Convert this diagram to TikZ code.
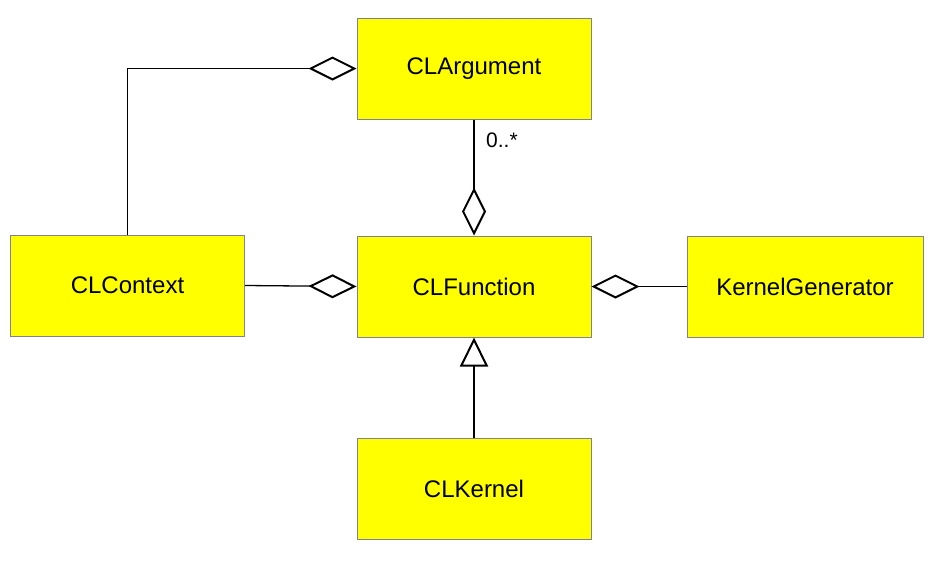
\documentclass[tikz,border=0pt]{standalone}
\usepackage{fontspec}
\setmainfont{Liberation Sans}
\usetikzlibrary{arrows.meta}
\definecolor{boxfill}{RGB}{255,255,0}
\definecolor{boxline}{RGB}{128,128,150}
\begin{document}
\begin{tikzpicture}[x=1pt,y=-1pt,
  cls/.style={draw=boxline, line width=1pt, fill=boxfill, minimum width=234pt, minimum height=101pt, inner sep=0pt, font=\fontsize{24}{28}\selectfont},
  agg/.style={line width=1.3pt, -{Diamond[open,length=48pt,width=24pt,line width=2pt]}},
  inh/.style={line width=1.3pt, -{Triangle[open,length=29pt,width=28pt,line width=2pt]}},
  lbl/.style={font=\fontsize{21}{24}\selectfont, inner sep=0pt, anchor=west}]
\useasboundingbox[fill=white] (0,0) rectangle (940,560);
\node[cls] (arg) at (474,68.5) {CLArgument};
\node[cls] (ctx) at (127.5,285.5) {CLContext};
\node[cls] (fun) at (474,286.5) {CLFunction};
\node[cls, minimum width=236pt] (kg) at (805,286.5) {KernelGenerator};
\node[cls] (ker) at (474,489) {CLKernel};
\draw[agg] (ctx.north) |- (arg.west);
\draw[agg] (arg.south) -- (fun.north);
\draw[agg] (ctx.east) -- (fun.west);
\draw[agg] (kg.west) -- (fun.east);
\draw[inh] (ker.north) -- (fun.south);
\node[lbl] (mult) at (486,140) {0..*};
\end{tikzpicture}
\end{document}
